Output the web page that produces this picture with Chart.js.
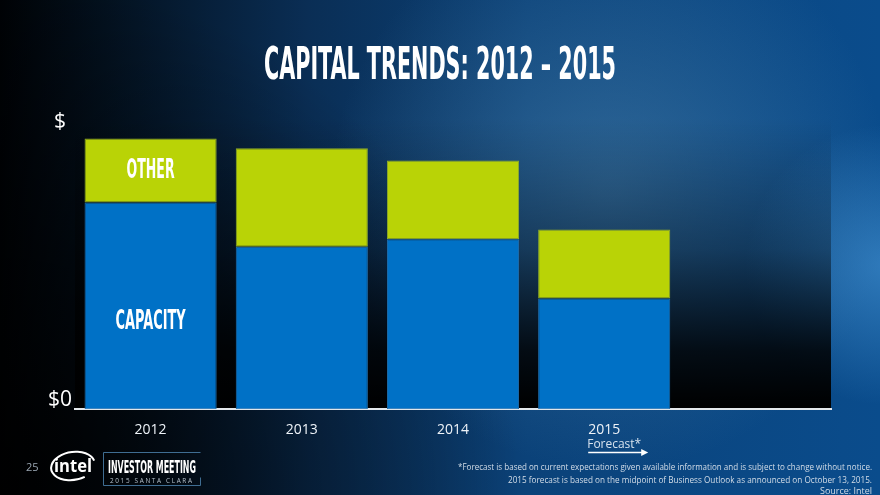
<!DOCTYPE html>
<html>
<head>
<meta charset="utf-8">
<script src="https://cdn.jsdelivr.net/npm/chart.js@4"></script>
<style>
  html, body { margin: 0; padding: 0; background: #03101e; }
  #wrap { width: 880px; height: 495px; }
</style>
</head>
<body>
<div id="wrap"><canvas id="capexChart" width="880" height="495"></canvas></div>
<script>
// Chart values (approx. $B)
const years = ['2012', '2013', '2014', '2015', ''];
const capacity = [8.4, 6.6, 6.9, 4.5];
const other = [2.6, 4.0, 3.2, 2.8];
const yMax = 11.3;
const yTickLabels = ['$0', '$'];

const titleText = 'CAPITAL TRENDS: 2012 – 2015';
const footnotes = [
    '*Forecast is based on current expectations given available information and is subject to change without notice.',
    '2015 forecast is based on the midpoint of Business Outlook as announced on October 13, 2015.',
    'Source: Intel'
];

const condensed = "'Liberation Sans Narrow', 'DejaVu Sans Condensed', 'Roboto', sans-serif";
const bodyFont = "'Open Sans', 'Noto Sans', sans-serif";

// Slide background and the dark fade behind the bars
const backgroundPlugin = {
    id: 'slideBackground',
    beforeDraw(chart) {
        const { ctx, width, height, chartArea } = chart;
        ctx.save();
        let g = ctx.createLinearGradient(0, 0, width, 0);
        g.addColorStop(0, '#000205');
        g.addColorStop(0.12, '#03111f');
        g.addColorStop(0.35, '#0a2e55');
        g.addColorStop(0.6, '#0b4279');
        g.addColorStop(1, '#0a4c8c');
        ctx.fillStyle = g;
        ctx.fillRect(0, 0, width, height);

        // soft highlight near the upper middle
        g = ctx.createRadialGradient(610, 190, 10, 610, 190, 280);
        g.addColorStop(0, 'rgba(80,135,175,0.5)');
        g.addColorStop(1, 'rgba(80,135,175,0)');
        ctx.fillStyle = g;
        ctx.fillRect(0, 0, width, height);

        // highlight on the right edge
        g = ctx.createRadialGradient(885, 265, 5, 885, 265, 140);
        g.addColorStop(0, 'rgba(70,150,215,0.6)');
        g.addColorStop(1, 'rgba(70,150,215,0)');
        ctx.fillStyle = g;
        ctx.fillRect(0, 0, width, height);

        // darken bottom left
        g = ctx.createRadialGradient(0, 495, 10, 0, 495, 520);
        g.addColorStop(0, 'rgba(0,0,0,0.9)');
        g.addColorStop(1, 'rgba(0,0,0,0)');
        ctx.fillStyle = g;
        ctx.fillRect(0, 0, width, height);

        // fade to black inside the plot area
        const top = 118;
        g = ctx.createLinearGradient(0, top, 0, chartArea.bottom);
        g.addColorStop(0, 'rgba(0,0,0,0)');
        g.addColorStop(0.45, 'rgba(0,0,0,0.35)');
        g.addColorStop(0.8, 'rgba(0,0,0,0.85)');
        g.addColorStop(1, 'rgba(0,0,0,1)');
        ctx.fillStyle = g;
        ctx.fillRect(chartArea.left, top, chartArea.right - chartArea.left, chartArea.bottom - top);
        ctx.restore();
    }
};

// Title, bar captions, forecast note and slide footer
const decorPlugin = {
    id: 'slideDecor',
    afterDraw(chart) {
        const { ctx } = chart;
        ctx.save();
        ctx.fillStyle = '#ffffff';
        ctx.textAlign = 'center';
        ctx.textBaseline = 'alphabetic';
        ctx.font = `bold 44px ${condensed}`;
        ctx.fillText(titleText, 440, 79, 352);

        // captions inside the 2012 bar
        const capBar = chart.getDatasetMeta(0).data[0];
        const othBar = chart.getDatasetMeta(1).data[0];
        ctx.font = `bold 27px ${condensed}`;
        ctx.textBaseline = 'middle';
        ctx.fillText('OTHER', othBar.x, (othBar.y + othBar.base) / 2 + 1, 48);
        ctx.fillText('CAPACITY', capBar.x, capBar.y + (capBar.base - capBar.y) * 0.58, 70);

        // Forecast* with arrow under 2015
        const xs = chart.scales.x;
        const fx = xs.getPixelForValue(3) - 17;
        ctx.textAlign = 'left';
        ctx.textBaseline = 'alphabetic';
        ctx.fillStyle = '#d6e2ee';
        ctx.font = `12px ${bodyFont}`;
        ctx.fillText('Forecast*', fx, 448, 54);
        ctx.strokeStyle = '#ffffff';
        ctx.lineWidth = 1.6;
        ctx.beginPath();
        ctx.moveTo(fx + 1, 452.5);
        ctx.lineTo(fx + 56, 452.5);
        ctx.stroke();
        ctx.fillStyle = '#ffffff';
        ctx.beginPath();
        ctx.moveTo(fx + 61, 452.5);
        ctx.lineTo(fx + 54, 449);
        ctx.lineTo(fx + 54, 456);
        ctx.closePath();
        ctx.fill();

        // footer: page number, logo, event box
        ctx.fillStyle = '#9aa6b2';
        ctx.font = `11px ${bodyFont}`;
        ctx.fillText('25', 26, 471);

        ctx.strokeStyle = '#ffffff';
        ctx.lineWidth = 2;
        ctx.beginPath();
        ctx.ellipse(73, 466, 22, 14, -0.15, 0.35 * Math.PI, 1.95 * Math.PI);
        ctx.stroke();
        ctx.fillStyle = '#ffffff';
        ctx.font = `bold 17px ${bodyFont}`;
        ctx.fillText('intel', 54, 472, 38);

        ctx.strokeStyle = '#3f6d92';
        ctx.lineWidth = 1;
        ctx.beginPath();
        ctx.moveTo(200.5, 452.5);
        ctx.lineTo(103.5, 452.5);
        ctx.lineTo(103.5, 485.5);
        ctx.lineTo(200.5, 485.5);
        ctx.lineTo(200.5, 477.5);
        ctx.stroke();
        ctx.fillStyle = '#ffffff';
        ctx.font = `bold 17px ${condensed}`;
        ctx.fillText('INVESTOR MEETING', 108, 473, 88);
        ctx.fillStyle = '#b7c2cc';
        ctx.font = `8px ${bodyFont}`;
        ctx.fillText('2 0 1 5   S A N T A   C L A R A', 110, 483, 82);

        // footnotes
        ctx.textAlign = 'right';
        ctx.fillStyle = '#d3dde8';
        ctx.font = `9.5px ${bodyFont}`;
        ctx.fillText(footnotes[0], 872, 470, 414);
        ctx.fillText(footnotes[1], 872, 482.5, 364);
        ctx.fillText(footnotes[2], 872, 494, 52);
        ctx.restore();
    }
};

new Chart(document.getElementById('capexChart'), {
    type: 'bar',
    data: {
        labels: years,
        datasets: [
            {
                label: 'Capacity',
                data: capacity,
                backgroundColor: '#0071c6',
                borderColor: '#1f6fae',
                borderWidth: 1,
                borderSkipped: false,
            },
            {
                label: 'Other',
                data: other,
                backgroundColor: '#b9d306',
                borderColor: '#8eab2a',
                borderWidth: 1,
                borderSkipped: false,
            },
        ],
    },
    options: {
        responsive: false,
        animation: false,
        devicePixelRatio: 1,
        layout: { padding: { left: 45, right: 49, top: 131, bottom: 45 } },
        plugins: {
            legend: { display: false },
            title: { display: false },
            tooltip: { enabled: false },
        },
        datasets: { bar: { barPercentage: 0.874, categoryPercentage: 1 } },
        scales: {
            x: {
                stacked: true,
                grid: { display: false, drawTicks: false },
                border: { display: true, color: '#e4e8ec', width: 2 },
                ticks: {
                    color: '#eef3f8',
                    font: { family: bodyFont, size: 14 },
                    padding: 12,
                    maxRotation: 0,
                },
            },
            y: {
                stacked: true,
                min: 0,
                max: yMax,
                grid: { display: false, drawTicks: false },
                border: { display: false },
                afterFit(scale) { scale.width = 30; },
                afterBuildTicks(scale) {
                    scale.ticks = [{ value: 0 }, { value: yMax }];
                },
                ticks: {
                    color: '#ffffff',
                    font: { family: bodyFont, size: 21 },
                    padding: 3,
                    crossAlign: 'center',
                    labelOffset: -9,
                    callback: (v) => (v === 0 ? yTickLabels[0] : yTickLabels[1]),
                },
            },
        },
    },
    plugins: [backgroundPlugin, decorPlugin],
});
</script>
</body>
</html>
